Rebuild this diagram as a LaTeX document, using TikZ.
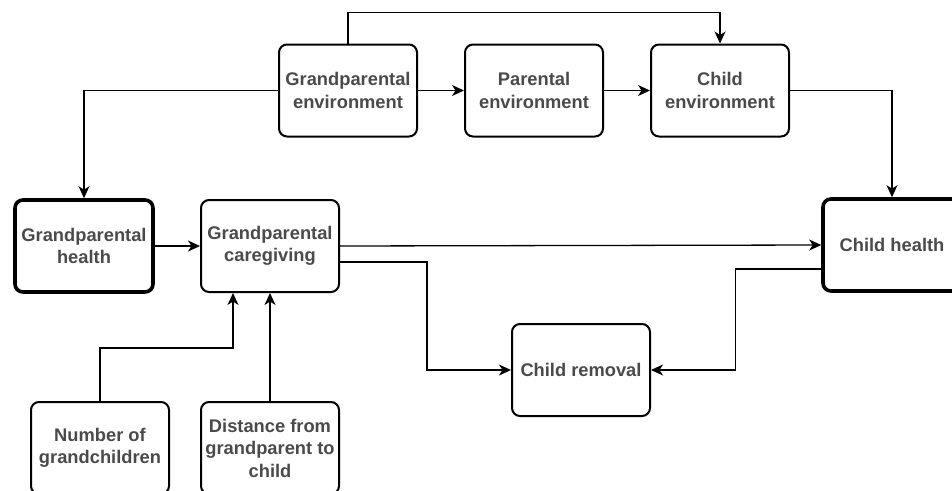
\documentclass[tikz,border=0pt]{standalone}
\usepackage{fontspec}
\setmainfont{Liberation Sans}
\usepackage{tikz}
\usetikzlibrary{arrows.meta}

\definecolor{txtgray}{HTML}{4A4A4A}

\begin{document}
\begin{tikzpicture}[x=1pt,y=-1pt,
		box/.style={draw=black,line width=2pt,rounded corners=8pt,
			minimum width=138pt,minimum height=92pt,align=center,
			font=\fontsize{18.3}{22.5}\selectfont\bfseries,text=txtgray},
		thickbox/.style={box,line width=3.6pt},
		arr/.style={line width=1.3pt,-{Stealth[length=12pt,width=11pt,inset=3.5pt]}}]
		% Rahmen 952 x 490
		\fill[white] (0,0) rectangle (952,490);
		\useasboundingbox (0,0) rectangle (952,490);
		
		% Obere Reihe: Umgebungen
		\node[box] (genv) at (348,90.5) {Grandparental\\environment};
		\node[box] (penv) at (534,90.5) {Parental\\environment};
		\node[box] (cenv) at (720,90.5) {Child\\environment};
		
		% Mittlere Reihe
		\node[thickbox] (ghealth) at (84,246) {Grandparental\\health};
		\node[box] (gcare) at (270,246) {Grandparental\\caregiving};
		\node[thickbox] (chealth) at (892,245) {Child health};
		\node[box] (removal) at (581,370) {Child removal};
		
		% Untere Reihe (unten abgeschnitten)
		\node[box] (numgc) at (100,448) {Number of\\grandchildren};
		\node[box] (dist) at (270,448) {Distance from\\grandparent to\\child};
		
		% Pfeile zwischen den Umgebungen
		\draw[arr] (genv.north) -- ++(0,-31) -| (cenv.north);
		\draw[arr] (genv) -- (penv);
		\draw[arr] (penv) -- (cenv);
		\draw[arr] (genv.west) -| (ghealth.north);
		\draw[arr] (cenv.east) -| (chealth.north);
		
		% Pfeile in der Mitte
		\draw[arr] (ghealth) -- (gcare);
		\draw[arr] (gcare.east) -- (chealth.west);
		\draw[arr] ([yshift=-16pt]gcare.east) -- ++(87,0) |- (removal.west);
		\draw[arr] ([yshift=-24pt]chealth.west) -- ++(-86,0) |- (removal.east);
		
		% Pfeile von unten
		\draw[arr] (numgc.north) -- ++(0,-53) -| ([xshift=-37pt]gcare.south);
		\draw[arr] (dist.north) -- (gcare.south);
		
	\end{tikzpicture}
\end{document}
